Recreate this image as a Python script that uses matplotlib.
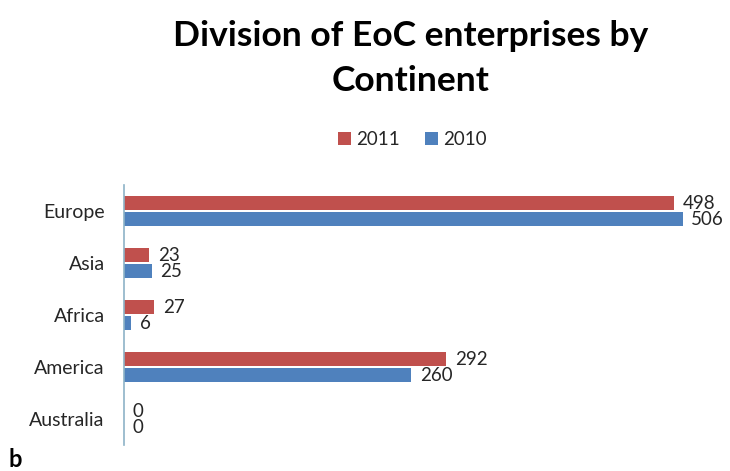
import numpy as np
import matplotlib.pyplot as plt

continents = ["Europe", "Asia", "Africa", "America", "Australia"]
vals_2011 = [498, 23, 27, 292, 0]
vals_2010 = [506, 25, 6, 260, 0]

red = "#C0504D"
blue = "#4F81BD"
txt = "#262626"

plt.rcParams['font.family'] = ['Lato', 'DejaVu Sans']

fig = plt.figure(figsize=(7.3, 4.71), dpi=100)
ax = fig.add_axes([0.170, 0.055, 0.83, 0.552])

y = np.arange(len(continents))
h = 0.28
b1 = ax.barh(y - h / 2 - 0.015, vals_2011, height=h, color=red, label="2011")
b2 = ax.barh(y + h / 2 + 0.015, vals_2010, height=h, color=blue, label="2010")

for bars in (b1, b2):
    for rect in bars:
        w = rect.get_width()
        ax.text(w + 8, rect.get_y() + rect.get_height() / 2, str(int(w)),
                va="center", ha="left", fontsize=13.5, color=txt)

ax.set_ylim(4.5, -0.5)
ax.set_xlim(0, 549)
ax.set_yticks(y)
ax.set_yticklabels(continents, fontsize=14, color=txt)
ax.tick_params(axis="y", length=0, pad=14)
ax.set_xticks([])
for s in ["top", "right", "bottom"]:
    ax.spines[s].set_visible(False)
ax.spines["left"].set_color("#8DB3C7")
ax.spines["left"].set_linewidth(1.2)

fig.text(0.562, 0.958, "Division of EoC enterprises by\nContinent", ha="center", va="top",
         fontsize=25.5, fontweight="bold", color="black", linespacing=1.5)
fig.legend(handles=[b1, b2], loc="center", bbox_to_anchor=(0.565, 0.703), ncol=2,
           frameon=False, fontsize=13.5, handlelength=0.7, handleheight=0.7,
           handletextpad=0.3, columnspacing=1.3, labelcolor=txt)
fig.text(0.012, 0.008, "b", fontsize=17, fontweight="bold", color="black")

fig.savefig("out.png", dpi=100)
